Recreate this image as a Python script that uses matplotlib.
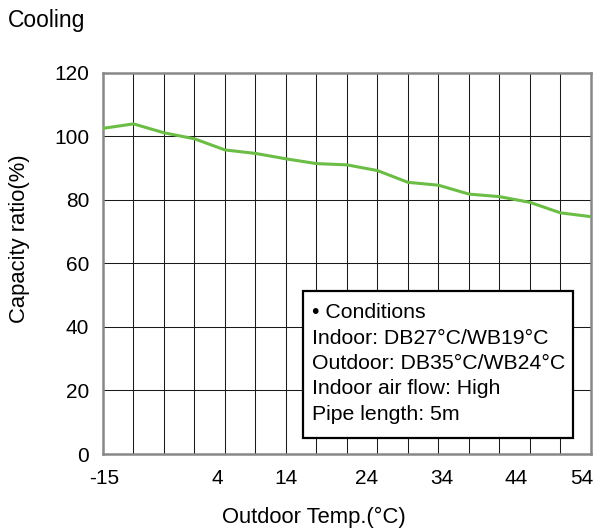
import matplotlib.pyplot as plt
from matplotlib.patches import Rectangle

plt.rcParams['font.family'] = ['Liberation Sans', 'DejaVu Sans']

# capacity ratio read at each vertical grid line, left to right
capacity = [102.5, 103.9, 101.1, 99.2, 95.7, 94.6, 92.9, 91.4, 91.0,
            89.2, 85.5, 84.6, 81.8, 81.0, 79.2, 75.9, 74.7]

# outdoor temperature tick labels and where they sit (in grid-line units)
temp_labels = ['-15', '4', '14', '24', '34', '44', '54']
temp_label_pos = [0.03, 3.74, 6.0, 8.65, 11.1, 13.54, 15.7]

y_ticks = [0, 20, 40, 60, 80, 100, 120]

conditions = ['\u2022 Conditions',
              'Indoor: DB27\u00b0C/WB19\u00b0C',
              'Outdoor: DB35\u00b0C/WB24\u00b0C',
              'Indoor air flow: High',
              'Pipe length: 5m']

fig = plt.figure(figsize=(5.96, 5.32), dpi=100)
ax = fig.add_axes([0.1728, 0.1466, 0.8188, 0.7167])

n = len(capacity)
ax.plot(range(n), capacity, color='#6cbd45', lw=2.2, zorder=3)

ax.set_xlim(0, n - 1)
ax.set_ylim(0, 120)

# grid lines
for i in range(1, n - 1):
    ax.axvline(i, color='#1a1a1a', lw=0.75, zorder=1)
for v in y_ticks[1:-1]:
    ax.axhline(v, color='#1a1a1a', lw=0.75, zorder=1)

for s in ax.spines.values():
    s.set_color('#888888')
    s.set_linewidth(1.8)

ax.set_xticks(temp_label_pos)
ax.set_xticklabels(temp_labels)
ax.set_yticks(y_ticks)
ax.tick_params(length=0, labelsize=15)
ax.tick_params(axis='x', pad=10.5)
ax.tick_params(axis='y', pad=10)

ax.set_xlabel('Outdoor Temp.(\u00b0C)', fontsize=15.8, labelpad=14)
ax.xaxis.label.set_x(0.432)
ax.set_ylabel('Capacity ratio(%)', fontsize=15.8, labelpad=17)
ax.yaxis.label.set_y(0.564)

fig.text(8 / 596, 1 - 20 / 532, 'Cooling', fontsize=16.5, va='center', ha='left')

# conditions box
ax.add_patch(Rectangle((0.4105, 0.0412), 0.552, 0.3871, transform=ax.transAxes,
                       facecolor='white', edgecolor='black', lw=1.6, zorder=4))
line_y = [0.3706, 0.3042, 0.2386, 0.1731, 0.1049]
for txt, yy in zip(conditions, line_y):
    ax.text(0.4277, yy, txt, transform=ax.transAxes, fontsize=15.3,
            va='center', ha='left', zorder=5)

fig.savefig('out.png', dpi=100)
